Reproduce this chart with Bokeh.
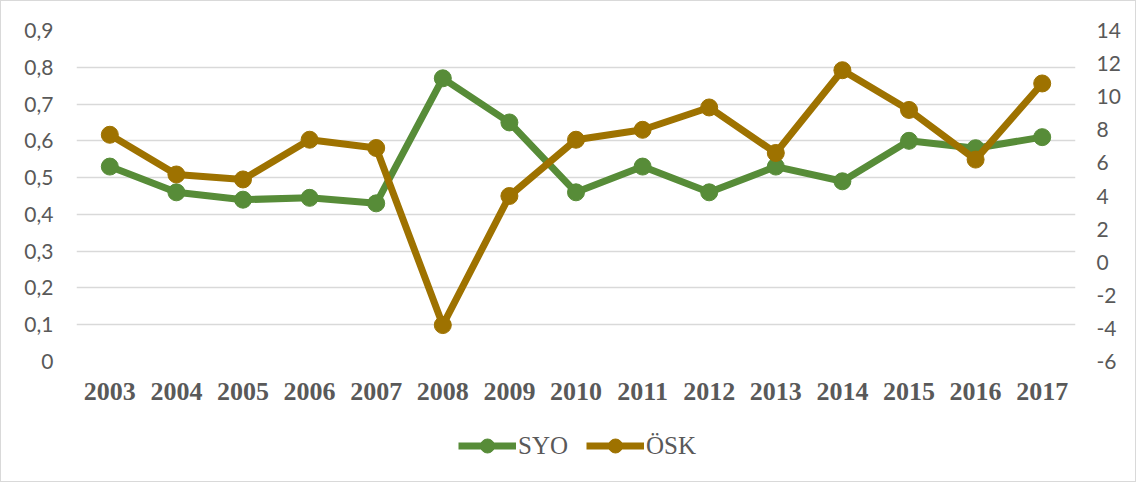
from bokeh.plotting import figure
from bokeh.layouts import column
from bokeh.models import (LinearAxis, Range1d, FactorRange, Legend, LegendItem,
                          SingleIntervalTicker, CustomJSTickFormatter)
from bokeh.embed import file_html
from bokeh.resources import INLINE

years = ["2003", "2004", "2005", "2006", "2007", "2008", "2009", "2010",
         "2011", "2012", "2013", "2014", "2015", "2016", "2017"]
syo = [0.53, 0.46, 0.44, 0.445, 0.43, 0.77, 0.65, 0.46, 0.53, 0.46, 0.53, 0.49, 0.60, 0.58, 0.61]
osk = [7.7, 5.3, 5.0, 7.4, 6.9, -3.8, 4.0, 7.4, 8.0, 9.35, 6.6, 11.6, 9.2, 6.2, 10.8]
series_names = ["SYO", "ÖSK"]

GREEN = "#578c38"
GOLD = "#9e7200"
GRAY = "#595959"

p = figure(x_range=FactorRange(*years), y_range=Range1d(0, 0.9),
           frame_width=999, frame_height=331, output_backend="svg", toolbar_location=None,
           min_border_left=75, min_border_right=60, min_border_top=29, min_border_bottom=60)
p.outline_line_color = None
p.extra_y_ranges = {"r": Range1d(-6, 14)}

# left axis
ya = p.yaxis[0]
ya.ticker = SingleIntervalTicker(interval=0.1, num_minor_ticks=0)
ya.formatter = CustomJSTickFormatter(code="return Math.abs(tick) < 1e-9 ? '0' : tick.toFixed(1).replace('.', ',');")
ya.axis_line_color = None
ya.major_tick_line_color = None
ya.minor_tick_line_color = None
ya.major_label_text_font = "Lato"
ya.major_label_text_font_size = "21px"
ya.major_label_text_color = GRAY
ya.major_label_standoff = 17

# right axis
ra = LinearAxis(y_range_name="r", ticker=SingleIntervalTicker(interval=2, num_minor_ticks=0),
                formatter=CustomJSTickFormatter(code="return String(Math.round(tick));"))
ra.axis_line_color = None
ra.major_tick_line_color = None
ra.minor_tick_line_color = None
ra.major_label_text_font = "Lato"
ra.major_label_text_font_size = "21px"
ra.major_label_text_color = GRAY
ra.major_label_standoff = 15
p.add_layout(ra, "right")

# x axis
xa = p.xaxis[0]
xa.axis_line_color = None
xa.major_tick_line_color = None
xa.major_label_text_font = "Liberation Serif"
xa.major_label_text_font_style = "bold"
xa.major_label_text_font_size = "26px"
xa.major_label_text_color = GRAY
xa.major_label_standoff = 15

p.xgrid.grid_line_color = None
p.ygrid.grid_line_color = "#d9d9d9"
p.ygrid.grid_line_width = 1.5

p.line(years, syo, line_color=GREEN, line_width=7)
p.scatter(years, syo, size=17, fill_color=GREEN, line_color=GREEN)
p.line(years, osk, line_color=GOLD, line_width=7, y_range_name="r")
p.scatter(years, osk, size=17, fill_color=GOLD, line_color=GOLD, y_range_name="r")

# legend strip below the chart (its series lie outside its own view, only the legend shows)
q = figure(x_range=FactorRange(*years), y_range=Range1d(100, 101),
           frame_width=1134, frame_height=60, min_border=0,
           output_backend="svg", toolbar_location=None,
           x_axis_location=None, y_axis_location=None)
q.outline_line_color = None
q.xgrid.grid_line_color = None
q.ygrid.grid_line_color = None
lg1 = q.line(years, syo, line_color=GREEN, line_width=7)
sg1 = q.scatter(years, syo, size=17, fill_color=GREEN, line_color=GREEN)
lg2 = q.line(years, osk, line_color=GOLD, line_width=7)
sg2 = q.scatter(years, osk, size=17, fill_color=GOLD, line_color=GOLD)

legend = Legend(items=[LegendItem(label=series_names[0], renderers=[lg1, sg1]),
                       LegendItem(label=series_names[1], renderers=[lg2, sg2])],
                orientation="horizontal", location=(457, 18),
                glyph_width=58, glyph_height=35, label_standoff=2, spacing=18,
                padding=0, margin=0,
                label_text_font="Liberation Serif", label_text_font_size="25px",
                label_text_color=GRAY, border_line_color=None, background_fill_alpha=0)
q.add_layout(legend, "center")

layout = column(p, q, spacing=0, styles={"border": "1px solid #d9d9d9"})

open("out.html", "w").write(file_html(layout, INLINE))
